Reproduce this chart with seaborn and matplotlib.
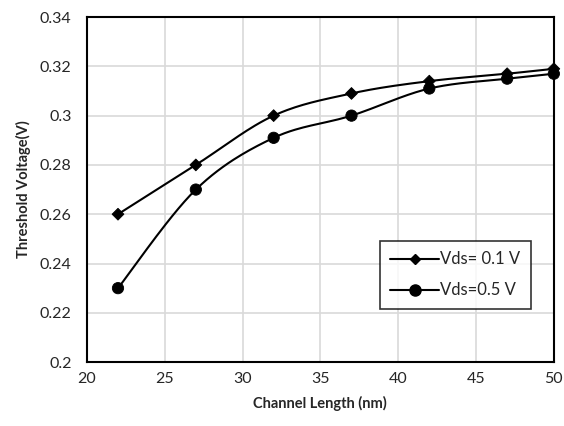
import numpy as np
import pandas as pd
import seaborn as sns
import matplotlib
matplotlib.use('Agg')
import matplotlib.pyplot as plt
from matplotlib.lines import Line2D

channel_length = [22, 27, 32, 37, 42, 47, 50]
vth_01 = [0.260, 0.280, 0.300, 0.309, 0.314, 0.317, 0.319]
vth_05 = [0.230, 0.270, 0.291, 0.300, 0.311, 0.315, 0.317]
series_names = ['Vds= 0.1 V', 'Vds=0.5 V']
x_ticks = [20, 25, 30, 35, 40, 45, 50]
y_ticks = [0.2, 0.22, 0.24, 0.26, 0.28, 0.3, 0.32, 0.34]


def smooth(x, y, n=30):
    # Excel-style smoothed line (Catmull-Rom as cubic Bezier)
    p = np.column_stack([x, y]).astype(float)
    pts = np.vstack([p[0], p, p[-1]])
    t = np.linspace(0, 1, n)[:, None]
    out = []
    for i in range(1, len(pts) - 2):
        p0, p1, p2, p3 = pts[i - 1], pts[i], pts[i + 1], pts[i + 2]
        c1 = p1 + (p2 - p0) / 6
        c2 = p2 - (p3 - p1) / 6
        seg = ((1 - t) ** 3) * p1 + 3 * ((1 - t) ** 2) * t * c1 + 3 * (1 - t) * t ** 2 * c2 + t ** 3 * p2
        out.append(seg if i == 1 else seg[1:])
    out = np.vstack(out)
    return out[:, 0], out[:, 1]


sns.set_style('whitegrid')
plt.rcParams['font.family'] = ['Lato', 'DejaVu Sans']

fig = plt.figure(figsize=(5.64, 4.26), dpi=100)
ax = fig.add_axes([0.154, 0.150, 0.828, 0.810])

df = pd.DataFrame({'L': channel_length * 2,
                   'Vth': vth_01 + vth_05,
                   'Series': [series_names[0]] * 7 + [series_names[1]] * 7})

for name, vals in zip(series_names, [vth_01, vth_05]):
    sx, sy = smooth(channel_length, vals)
    sns.lineplot(x=sx, y=sy, ax=ax, color='black', lw=1.5, sort=False)

sns.scatterplot(data=df, x='L', y='Vth', style='Series', markers=['D', 'o'],
                s=60, color='black', edgecolor='black', ax=ax,
                legend=False, zorder=5, clip_on=False)
# diamonds smaller than circles
sizes = [36 if m == series_names[0] else 66 for m in df['Series']]
ax.collections[-1].set_sizes(sizes)

ax.set_xlim(20, 50)
ax.set_ylim(0.2, 0.34)
ax.set_xticks(x_ticks)
ax.set_yticks(y_ticks)
ax.set_yticklabels(['0.2', '0.22', '0.24', '0.26', '0.28', '0.3', '0.32', '0.34'])
ax.tick_params(labelsize=11.5, length=0)
ax.tick_params(axis='x', pad=7)
ax.tick_params(axis='y', pad=11)
ax.grid(True, color='#d9d9d9', lw=1.2)
for s in ax.spines.values():
    s.set_color('black')
    s.set_linewidth(1.5)

ax.set_xlabel('Channel Length (nm)', fontsize=10.5, fontweight='bold', labelpad=7)
ax.set_ylabel('Threshold Voltage(V)', fontsize=10.5, fontweight='bold', labelpad=6)

handles = [Line2D([], [], color='black', marker='D', markersize=5, lw=1.5),
           Line2D([], [], color='black', marker='o', markersize=8, lw=1.5)]
leg = ax.legend(handles, series_names, loc='upper left',
                bbox_to_anchor=(0.627, 0.352), frameon=True, fontsize=12,
                handlelength=2.9, handletextpad=0.1, borderpad=0.65,
                labelspacing=0.9, fancybox=False, borderaxespad=0)
leg.get_frame().set_edgecolor('black')
leg.get_frame().set_linewidth(1.2)

fig.savefig('out.png', dpi=100)
